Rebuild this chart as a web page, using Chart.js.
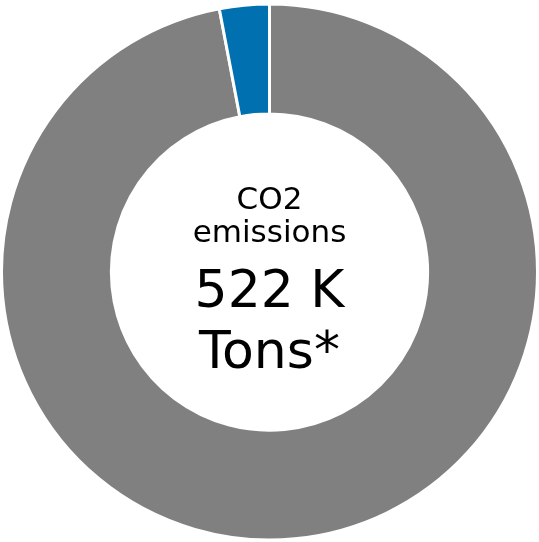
<!DOCTYPE html>
<html>
<head>
<meta charset="utf-8">
<script src="https://cdn.jsdelivr.net/npm/chart.js@4"></script>
<style>
  html, body { margin: 0; padding: 0; background: #fff; }
  #wrap { width: 539px; height: 542px; position: relative; }
</style>
</head>
<body>
<div id="wrap"><canvas id="co2Chart"></canvas></div>
<script>
const labels = ['Other', 'Share'];
const shares = [97, 3];
const colors = ['#808080', '#0070b0'];
const centerLines = ['CO2', 'emissions', '522 K', 'Tons*'];

// text in the hole of the doughnut
const centerText = {
  id: 'centerText',
  afterDraw(chart) {
    const arc = chart.getDatasetMeta(0).data[0];
    const ctx = chart.ctx;
    const cx = arc.x, cy = arc.y;
    ctx.save();
    ctx.fillStyle = '#000';
    ctx.textAlign = 'center';
    ctx.textBaseline = 'alphabetic';
    ctx.font = '31px "DejaVu Sans"';
    ctx.fillText(centerLines[0], cx, cy - 63);
    ctx.fillText(centerLines[1], cx, cy - 30);
    ctx.font = '52px "DejaVu Sans"';
    ctx.fillText(centerLines[2], cx, cy + 35);
    ctx.fillText(centerLines[3], cx, cy + 96);
    ctx.restore();
  }
};

new Chart(document.getElementById('co2Chart').getContext('2d'), {
  type: 'doughnut',
  data: {
    labels: labels,
    datasets: [{
      data: shares,
      backgroundColor: colors,
      borderColor: '#fff',
      borderWidth: 3
    }]
  },
  options: {
    responsive: true,
    maintainAspectRatio: false,
    animation: false,
    cutout: '59%',
    layout: { padding: { top: 2 } },
    plugins: {
      legend: { display: false },
      tooltip: { enabled: false }
    }
  },
  plugins: [centerText]
});
</script>
</body>
</html>
